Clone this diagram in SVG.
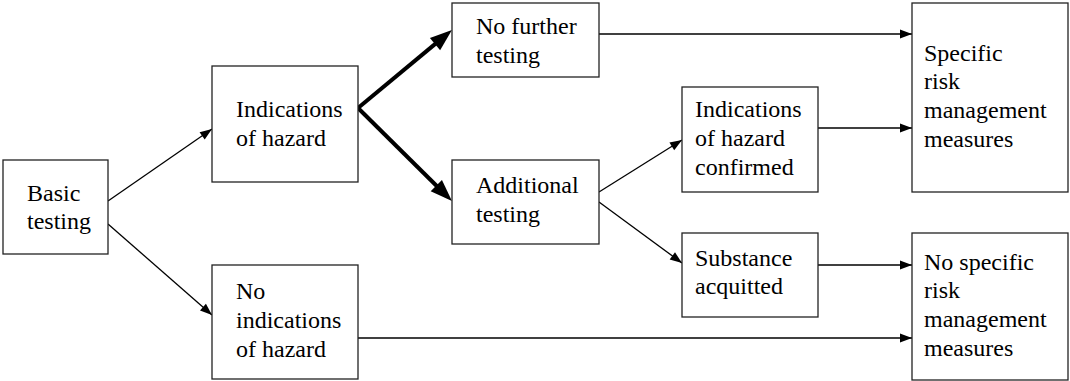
<svg xmlns="http://www.w3.org/2000/svg" width="1070" height="381" viewBox="0 0 1070 381">
<style>
.box{fill:#fff;stroke:#222;stroke-width:1.3}
.t{font-family:'Liberation Serif','Times New Roman','DejaVu Serif',serif;font-size:24px;fill:#000}
.c{fill:none;stroke:#000;stroke-width:1.3}
.ct{fill:none;stroke:#000;stroke-width:4}
.a{marker-end:url(#ah)}
.at{marker-end:url(#aht)}
</style>
<defs>
<marker id="ah" markerUnits="userSpaceOnUse" markerWidth="13" markerHeight="10" refX="12" refY="4.5" orient="auto" overflow="visible">
<path d="M0,0 L12,4.5 L0,9 z" fill="#000"/>
</marker>
<marker id="aht" markerUnits="userSpaceOnUse" markerWidth="23" markerHeight="17" refX="7" refY="8" orient="auto" overflow="visible">
<path d="M0,0 L22,8 L0,16 z" fill="#000"/>
</marker>
</defs>
<g id="connectors">
<path class="c a" d="M108,201 L212,129"/>
<path class="c a" d="M108,224 L212,315"/>
<path class="ct at" d="M358,108 L440.4,39.6"/>
<path class="ct at" d="M358,108 L441.3,190.5"/>
<path class="c a" d="M599,34 L912,34"/>
<path class="c a" d="M599,192 L682,140"/>
<path class="c a" d="M599,202 L682,263"/>
<path class="c a" d="M818,128 L912,128"/>
<path class="c a" d="M818,265 L912,265"/>
<path class="c a" d="M358,338 L912,338"/>
</g>
<g class="t" font-family="'Liberation Serif', 'Times New Roman', serif" font-size="24">
<g id="basic">
<rect class="box" x="3" y="160" width="105" height="94"/>
<text x="27" y="201">Basic</text>
<text x="27" y="229">testing</text>
</g>
<g id="indications">
<rect class="box" x="212" y="66" width="146" height="116"/>
<text x="236" y="117">Indications</text>
<text x="236" y="146">of hazard</text>
</g>
<g id="no-indications">
<rect class="box" x="212" y="265" width="146" height="114"/>
<text x="236" y="299">No</text>
<text x="236" y="328">indications</text>
<text x="236" y="357">of hazard</text>
</g>
<g id="no-further">
<rect class="box" x="452" y="3" width="147" height="74"/>
<text x="476" y="34">No further</text>
<text x="476" y="63">testing</text>
</g>
<g id="additional">
<rect class="box" x="452" y="160" width="147" height="84"/>
<text x="476" y="193">Additional</text>
<text x="476" y="222">testing</text>
</g>
<g id="confirmed">
<rect class="box" x="682" y="87" width="136" height="105"/>
<text x="695" y="117">Indications</text>
<text x="695" y="146">of hazard</text>
<text x="695" y="175">confirmed</text>
</g>
<g id="acquitted">
<rect class="box" x="682" y="233" width="136" height="84"/>
<text x="695" y="266">Substance</text>
<text x="695" y="294">acquitted</text>
</g>
<g id="specific">
<rect class="box" x="912" y="3" width="156" height="189"/>
<text x="924" y="61">Specific</text>
<text x="924" y="89">risk</text>
<text x="924" y="118">management</text>
<text x="924" y="147">measures</text>
</g>
<g id="no-specific">
<rect class="box" x="912" y="233" width="156" height="147"/>
<text x="924" y="270">No specific</text>
<text x="924" y="298">risk</text>
<text x="924" y="327">management</text>
<text x="924" y="356">measures</text>
</g>
</g>
</svg>
